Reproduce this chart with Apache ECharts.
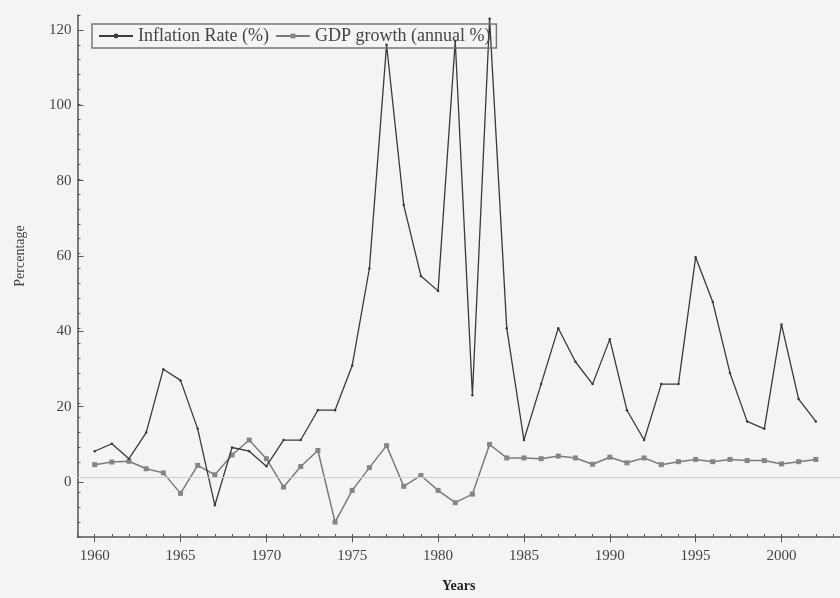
<!DOCTYPE html>
<html><head><meta charset="utf-8">
<script src="https://cdn.jsdelivr.net/npm/echarts@6/dist/echarts.min.js"></script>
<style>html,body{margin:0;padding:0;background:#f4f4f3}#c{width:840px;height:598px}</style>
</head><body><div id="c"></div>
<script>
const years = [1960,1961,1962,1963,1964,1965,1966,1967,1968,1969,
  1970,1971,1972,1973,1974,1975,1976,1977,1978,1979,
  1980,1981,1982,1983,1984,1985,1986,1987,1988,1989,
  1990,1991,1992,1993,1994,1995,1996,1997,1998,1999,
  2000,2001,2002];
const inflation = [7,9,5,12,29,26,13,-7.5,8,7,
  3,10,10,18,18,30,56,116,73,54,
  50,117,22,123,40,10,25,40,31,25,
  37,18,10,25,25,59,47,28,15,13,
  41,21,15];
const gdp = [3.4,4.1,4.3,2.3,1.2,-4.3,3.2,0.7,6,10,
  5,-2.6,2.9,7.2,-12,-3.5,2.6,8.5,-2.4,0.5,
  -3.5,-6.8,-4.5,8.8,5.2,5.2,5.0,5.7,5.2,3.5,
  5.4,3.9,5.2,3.4,4.2,4.8,4.2,4.8,4.5,4.5,
  3.6,4.2,4.8];
const seriesNames = ['Inflation Rate (%)', 'GDP growth (annual %)'];
const xAxisTitle = 'Years';
const yAxisTitle = 'Percentage';

const PXY = 17.17, PXV = 3.7667;
const axisX = 77.5, zeroY = 482;
const serif = 'Liberation Serif';
const axisCol = '#555';

const chart = echarts.init(document.getElementById('c'), null, {renderer:'canvas'});
const g0 = {left: axisX, right: 0, top: zeroY - 124*PXV, bottom: 598 - (zeroY + 16*PXV)};
const g1 = {left: axisX + PXY, right: 840 - (axisX + PXY) - 40*PXY, top: zeroY - 120*PXV, bottom: 598 - zeroY};
chart.setOption({
  animation: false,
  backgroundColor: '#f4f4f3',
  grid: [g0, g1],
  legend: {
    left: 92, top: 24, padding: [3, 6], itemGap: 6, itemWidth: 34, itemHeight: 6,
    borderColor: '#777', borderWidth: 1.5,
    textStyle: {fontFamily: serif, fontSize: 18, color: '#444', lineHeight: 18},
    data: seriesNames
  },
  xAxis: [
    {gridIndex: 0, type: 'value', min: 1959, max: 1959 + (840 - axisX)/PXY, interval: 1,
     name: xAxisTitle, nameLocation: 'middle', nameGap: 42,
     nameTextStyle: {fontFamily: serif, fontSize: 14, fontWeight: 'bold', color: '#222'},
     axisLine: {onZero: false, lineStyle: {color: axisCol, width: 1.5}},
     axisTick: {inside: true, length: 3, lineStyle: {color: axisCol}},
     axisLabel: {show: false}, splitLine: {show: false}},
    {gridIndex: 1, type: 'value', min: 1960, max: 2000, interval: 5, offset: (zeroY + 16*PXV) - zeroY,
     axisLine: {show: false, onZero: false},
     axisTick: {inside: true, length: 6, lineStyle: {color: axisCol}},
     axisLabel: {fontFamily: serif, fontSize: 15, color: '#444', margin: 6, formatter: v => String(v)},
     splitLine: {show: false}}
  ],
  yAxis: [
    {gridIndex: 0, type: 'value', min: -16, max: 124, interval: 4,
     axisLine: {onZero: false, lineStyle: {color: axisCol, width: 1.5}},
     axisTick: {inside: true, length: 3, lineStyle: {color: axisCol}},
     axisLabel: {show: false}, splitLine: {show: false}},
    {gridIndex: 1, type: 'value', min: 0, max: 120, interval: 20, offset: PXY,
     name: yAxisTitle, nameLocation: 'middle', nameGap: 50, nameRotate: 90,
     nameTextStyle: {fontFamily: serif, fontSize: 14, color: '#444'},
     axisLine: {show: false, onZero: false},
     axisTick: {inside: true, length: 6, lineStyle: {color: axisCol}},
     axisLabel: {fontFamily: serif, fontSize: 15, color: '#444', margin: 6, formatter: v => String(v)},
     splitLine: {show: false}}
  ],
  series: [
    {name: seriesNames[0], type: 'line', xAxisIndex: 0, yAxisIndex: 0,
     data: years.map((y, i) => [y, inflation[i]]),
     symbol: 'circle', symbolSize: 2.5, showSymbol: true,
     itemStyle: {color: '#3a3a3a'}, lineStyle: {color: '#3a3a3a', width: 1.3}, z: 3},
    {name: seriesNames[1], type: 'line', xAxisIndex: 0, yAxisIndex: 0,
     data: years.map((y, i) => [y, gdp[i]]),
     symbol: 'rect', symbolSize: 5,
     itemStyle: {color: '#858585'}, lineStyle: {color: '#7a7a7a', width: 1.5}, z: 2,
     markLine: {silent: true, symbol: 'none', label: {show: false},
       lineStyle: {color: '#cfcfcf', type: 'solid', width: 1.2},
       data: [{yAxis: 0}]}}
  ]
});
</script></body></html>
